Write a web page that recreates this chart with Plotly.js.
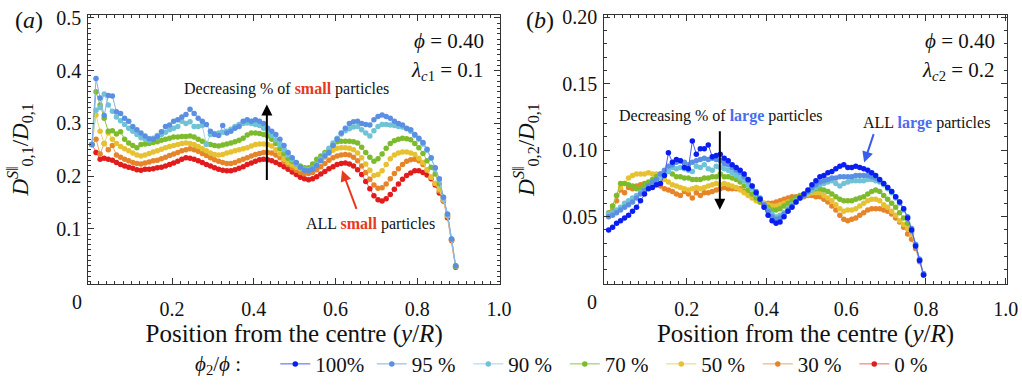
<!DOCTYPE html>
<html><head><meta charset="utf-8">
<script src="https://cdn.plot.ly/plotly-3.0.1.min.js"></script>
<style>html,body{margin:0;padding:0;background:#fff;} #chart{width:1022px;height:385px;}</style>
</head><body><div id="chart"></div>
<script>
// ---- data ----
const xLeft = [0.004,0.014,0.024,0.034,0.044,0.054,0.064,0.074,0.084,0.094,
0.104,0.114,0.124,0.134,0.144,0.154,0.164,0.174,0.184,0.194,
0.204,0.214,0.224,0.234,0.244,0.254,0.264,0.274,0.284,0.294,
0.304,0.314,0.324,0.334,0.344,0.354,0.364,0.374,0.384,0.394,
0.404,0.414,0.424,0.434,0.444,0.454,0.464,0.474,0.484,0.494,
0.504,0.514,0.524,0.534,0.544,0.554,0.564,0.574,0.584,0.594,
0.604,0.614,0.624,0.634,0.644,0.654,0.664,0.674,0.684,0.694,
0.704,0.714,0.724,0.734,0.744,0.754,0.764,0.774,0.784,0.794,
0.804,0.814,0.824,0.834,0.844,0.854,0.864,0.874,0.884,0.894];

const xRight = [0.004,0.014,0.024,0.034,0.044,0.054,0.064,0.074,0.084,0.094,
0.104,0.114,0.124,0.134,0.144,0.154,0.164,0.174,0.184,0.194,
0.204,0.214,0.224,0.234,0.244,0.254,0.264,0.274,0.284,0.294,
0.304,0.314,0.324,0.334,0.344,0.354,0.364,0.374,0.384,0.394,
0.404,0.414,0.424,0.434,0.444,0.454,0.464,0.474,0.484,0.494,
0.504,0.514,0.524,0.534,0.544,0.554,0.564,0.574,0.584,0.594,
0.604,0.614,0.624,0.634,0.644,0.654,0.664,0.674,0.684,0.694,
0.704,0.714,0.724,0.734,0.744,0.754,0.764,0.774,0.784,0.794];

// panel (a): D^S||_{0,1}/D_{0,1}
const left95 = [0.26,0.385,0.348,0.315,0.353,0.352,0.322,0.319,0.31,0.304,
0.294,0.288,0.282,0.276,0.271,0.27,0.275,0.284,0.294,0.297,
0.304,0.307,0.312,0.317,0.327,0.319,0.31,0.304,0.298,0.285,
0.279,0.277,0.296,0.282,0.285,0.291,0.294,0.304,0.307,0.304,
0.307,0.304,0.3,0.291,0.285,0.279,0.27,0.258,0.245,0.235,
0.226,0.217,0.211,0.21,0.213,0.22,0.229,0.238,0.245,0.258,
0.27,0.282,0.291,0.3,0.303,0.304,0.3,0.298,0.297,0.307,
0.313,0.316,0.313,0.31,0.304,0.3,0.297,0.291,0.288,0.279,
0.272,0.264,0.251,0.235,0.216,0.195,0.16,0.128,0.081,0.03];
const left90 = [0.26,0.325,0.33,0.356,0.335,0.323,0.312,0.305,0.298,0.291,
0.285,0.279,0.273,0.27,0.268,0.272,0.277,0.279,0.283,0.288,
0.291,0.294,0.304,0.3,0.303,0.294,0.294,0.296,0.26,0.279,
0.281,0.282,0.283,0.285,0.289,0.294,0.298,0.3,0.301,0.3,
0.298,0.296,0.291,0.285,0.277,0.269,0.26,0.25,0.24,0.231,
0.223,0.216,0.213,0.212,0.215,0.222,0.232,0.242,0.253,0.263,
0.272,0.28,0.286,0.29,0.293,0.294,0.288,0.282,0.276,0.286,
0.294,0.298,0.298,0.297,0.296,0.294,0.293,0.29,0.285,0.277,
0.27,0.261,0.249,0.234,0.215,0.193,0.158,0.127,0.081,0.03];
const left70 = [0.26,0.36,0.335,0.31,0.285,0.286,0.28,0.284,0.27,0.263,
0.258,0.254,0.26,0.261,0.262,0.264,0.265,0.268,0.27,0.272,
0.274,0.274,0.275,0.275,0.276,0.274,0.27,0.266,0.262,0.26,
0.258,0.257,0.259,0.261,0.263,0.265,0.268,0.272,0.278,0.282,
0.282,0.281,0.279,0.276,0.27,0.262,0.252,0.242,0.234,0.228,
0.223,0.219,0.216,0.216,0.223,0.232,0.238,0.245,0.251,0.259,
0.265,0.266,0.266,0.266,0.265,0.263,0.255,0.245,0.236,0.228,
0.233,0.242,0.253,0.262,0.267,0.27,0.272,0.271,0.269,0.262,
0.254,0.243,0.229,0.217,0.204,0.185,0.16,0.127,0.08,0.029];
const left50 = [0.26,0.316,0.285,0.262,0.282,0.27,0.262,0.256,0.252,0.248,
0.244,0.24,0.238,0.24,0.243,0.246,0.248,0.251,0.254,0.256,
0.258,0.26,0.262,0.263,0.262,0.26,0.256,0.252,0.248,0.244,
0.241,0.24,0.241,0.244,0.246,0.248,0.25,0.252,0.254,0.257,
0.26,0.261,0.261,0.26,0.257,0.25,0.242,0.232,0.226,0.221,
0.217,0.214,0.212,0.213,0.218,0.225,0.23,0.236,0.243,0.249,
0.253,0.254,0.254,0.253,0.25,0.244,0.235,0.223,0.211,0.201,
0.203,0.21,0.222,0.233,0.24,0.244,0.246,0.246,0.244,0.241,
0.234,0.226,0.212,0.198,0.186,0.175,0.155,0.125,0.08,0.029];
const left30 = [0.26,0.27,0.242,0.262,0.25,0.258,0.24,0.236,0.232,0.229,
0.226,0.224,0.223,0.225,0.227,0.229,0.23,0.233,0.236,0.239,
0.242,0.245,0.248,0.25,0.252,0.25,0.247,0.243,0.239,0.235,
0.231,0.228,0.226,0.224,0.224,0.226,0.229,0.232,0.235,0.238,
0.241,0.243,0.245,0.245,0.244,0.24,0.235,0.228,0.222,0.216,
0.211,0.207,0.205,0.205,0.207,0.212,0.218,0.224,0.23,0.235,
0.238,0.24,0.241,0.24,0.236,0.229,0.219,0.207,0.194,0.183,
0.177,0.178,0.185,0.195,0.205,0.214,0.222,0.228,0.231,0.232,
0.229,0.222,0.211,0.198,0.186,0.172,0.154,0.124,0.079,0.028];
const left0 = [0.26,0.245,0.232,0.234,0.232,0.23,0.226,0.222,0.219,0.217,
0.215,0.212,0.211,0.213,0.213,0.214,0.216,0.217,0.219,0.222,
0.225,0.228,0.232,0.235,0.234,0.232,0.229,0.226,0.222,0.219,
0.216,0.213,0.211,0.21,0.21,0.212,0.215,0.218,0.222,0.225,
0.228,0.231,0.232,0.231,0.229,0.226,0.222,0.218,0.213,0.208,
0.203,0.198,0.195,0.193,0.195,0.199,0.204,0.209,0.214,0.218,
0.222,0.224,0.225,0.223,0.219,0.212,0.203,0.19,0.176,0.163,
0.155,0.153,0.157,0.165,0.175,0.185,0.194,0.201,0.206,0.21,
0.21,0.207,0.202,0.195,0.183,0.168,0.153,0.121,0.078,0.027];

// panel (b): D^S||_{0,2}/D_{0,1}
const right100 = [0.040,0.042,0.045,0.047,0.049,0.051,0.054,0.057,0.062,0.067,
0.071,0.072,0.074,0.075,0.081,0.098,0.091,0.093,0.092,0.087,
0.086,0.107,0.097,0.101,0.101,0.104,0.095,0.096,0.097,0.094,
0.092,0.089,0.087,0.085,0.082,0.078,0.073,0.068,0.063,0.057,
0.051,0.047,0.045,0.046,0.050,0.054,0.057,0.061,0.064,0.067,
0.070,0.074,0.077,0.080,0.081,0.083,0.084,0.086,0.088,0.089,
0.087,0.087,0.088,0.087,0.086,0.085,0.083,0.081,0.078,0.075,
0.072,0.069,0.065,0.061,0.056,0.049,0.040,0.028,0.017,0.006];
const right95 = [0.050,0.051,0.053,0.055,0.057,0.059,0.061,0.064,0.067,0.070,
0.073,0.076,0.078,0.082,0.085,0.088,0.089,0.091,0.092,0.091,
0.089,0.091,0.092,0.093,0.094,0.093,0.094,0.093,0.092,0.090,
0.089,0.087,0.085,0.083,0.080,0.077,0.073,0.069,0.064,0.059,
0.054,0.050,0.048,0.049,0.052,0.055,0.058,0.061,0.064,0.066,
0.069,0.072,0.074,0.076,0.077,0.078,0.079,0.079,0.080,0.080,
0.080,0.080,0.081,0.081,0.081,0.081,0.080,0.079,0.077,0.075,
0.072,0.069,0.065,0.061,0.056,0.050,0.041,0.029,0.018,0.007];
const right90 = [0.052,0.053,0.055,0.057,0.060,0.062,0.064,0.066,0.068,0.070,
0.072,0.074,0.076,0.079,0.082,0.084,0.087,0.086,0.087,0.086,
0.085,0.084,0.088,0.087,0.089,0.086,0.085,0.088,0.087,0.086,
0.085,0.083,0.081,0.079,0.077,0.074,0.071,0.067,0.063,0.059,
0.055,0.052,0.050,0.051,0.053,0.056,0.059,0.062,0.064,0.066,
0.068,0.070,0.072,0.074,0.075,0.076,0.077,0.075,0.073,0.075,
0.076,0.077,0.077,0.077,0.077,0.078,0.078,0.077,0.076,0.074,
0.071,0.068,0.064,0.060,0.055,0.049,0.040,0.029,0.018,0.007];
const right70 = [0.053,0.058,0.066,0.075,0.075,0.074,0.073,0.071,0.071,0.074,
0.076,0.078,0.080,0.082,0.083,0.084,0.082,0.080,0.080,0.079,
0.079,0.078,0.078,0.078,0.079,0.079,0.080,0.080,0.082,0.080,
0.080,0.079,0.078,0.076,0.073,0.070,0.067,0.064,0.061,0.059,
0.057,0.055,0.055,0.056,0.058,0.060,0.062,0.064,0.066,0.067,
0.069,0.070,0.071,0.071,0.070,0.069,0.067,0.065,0.063,0.062,
0.062,0.062,0.063,0.064,0.065,0.067,0.069,0.070,0.069,0.066,
0.063,0.060,0.057,0.053,0.049,0.045,0.039,0.028,0.017,0.006];
const right50 = [0.052,0.058,0.066,0.072,0.075,0.079,0.081,0.082,0.082,0.082,
0.083,0.082,0.082,0.080,0.078,0.076,0.074,0.073,0.072,0.071,
0.070,0.071,0.072,0.071,0.072,0.073,0.074,0.075,0.074,0.075,
0.074,0.073,0.072,0.070,0.068,0.066,0.064,0.062,0.061,0.060,
0.059,0.058,0.058,0.059,0.060,0.061,0.062,0.063,0.065,0.066,
0.067,0.068,0.068,0.068,0.066,0.064,0.062,0.059,0.056,0.054,
0.055,0.055,0.056,0.058,0.060,0.062,0.063,0.063,0.062,0.059,
0.057,0.054,0.051,0.047,0.044,0.041,0.037,0.028,0.017,0.006];
const right30 = [0.051,0.055,0.062,0.070,0.068,0.072,0.071,0.073,0.074,0.075,
0.075,0.075,0.074,0.073,0.071,0.070,0.069,0.067,0.066,0.069,
0.067,0.064,0.068,0.066,0.068,0.068,0.069,0.070,0.071,0.072,
0.071,0.071,0.071,0.071,0.069,0.067,0.065,0.063,0.061,0.060,
0.060,0.060,0.061,0.062,0.063,0.064,0.065,0.065,0.065,0.065,
0.066,0.066,0.065,0.065,0.063,0.061,0.058,0.055,0.051,0.048,
0.047,0.048,0.049,0.051,0.053,0.055,0.056,0.056,0.056,0.055,
0.054,0.052,0.049,0.046,0.042,0.037,0.033,0.026,0.016,0.006];

const seriesKeys = ['p100','p95','p90','p70','p50','p30','p0'];
const seriesLabels = ['100%','95 %','90 %','70 %','50 %','30 %','0 %'];
const xTickVals = [0.2,0.4,0.6,0.8,1.0];
const xTickText = ['0.2','0.4','0.6','0.8','1.0'];
const yTickValsLeft = [0.1,0.2,0.3,0.4,0.5];
const yTickTextLeft = ['0.1','0.2','0.3','0.4','0.5'];
const yTickValsRight = [0.05,0.10,0.15,0.20];
const yTickTextRight = ['0.05','0.10','0.15','0.20'];

// ---- styles ----
const FONT = 'Liberation Serif';
const markerColor = {p100:'#0a1ef0', p95:'#5a8fe2', p90:'#70c2d6', p70:'#7dbb2c', p50:'#e6c233', p30:'#e6842a', p0:'#e11c1c'};
const lineColor   = {p100:'#4a5cf5', p95:'#86aeea', p90:'#9fd6e3', p70:'#8fc44a', p50:'#ecd36e', p30:'#eda462', p0:'#ec6a6a'};
const RED = '#e8391d', BLUE = '#4a6cf0';

function mk(x, y, key, xa, ya, showleg) {
  const i = seriesKeys.indexOf(key);
  return {type:'scatter', mode:'lines+markers', x:x, y:y, name:seriesLabels[i],
    legendgroup:key, showlegend:showleg, legendrank:i+1, xaxis:xa, yaxis:ya,
    line:{color:lineColor[key], width:1}, marker:{color:markerColor[key], size:5.5},
    hoverinfo:'x+y'};
}

const traces = [
  mk(xLeft, left0,  'p0',  'x','y', true),
  mk(xLeft, left30, 'p30', 'x','y', true),
  mk(xLeft, left50, 'p50', 'x','y', true),
  mk(xLeft, left70, 'p70', 'x','y', true),
  mk(xLeft, left90, 'p90', 'x','y', true),
  mk(xLeft, left95, 'p95', 'x','y', true),
  mk(xRight, right30, 'p30', 'x2','y2', false),
  mk(xRight, right50, 'p50', 'x2','y2', false),
  mk(xRight, right70, 'p70', 'x2','y2', false),
  mk(xRight, right90, 'p90', 'x2','y2', false),
  mk(xRight, right95, 'p95', 'x2','y2', false),
  mk(xRight, right100,'p100','x2','y2', true)
];

const axBase = {
  showline:true, linecolor:'#333', linewidth:1, mirror:'allticks',
  ticks:'inside', ticklen:6, tickwidth:1, tickcolor:'#333',
  showgrid:false, zeroline:false, automargin:false,
  tickfont:{family:FONT, size:20, color:'#111'},
  tickmode:'array'
};
const xMinor = {tickmode:'linear', tick0:0, dtick:0.02, ticks:'inside', ticklen:3, tickcolor:'#333', tickwidth:1};
const yMinor = {tickmode:'linear', tick0:0, dtick:0.01, ticks:'inside', ticklen:3, tickcolor:'#333', tickwidth:1};
const xTitle = {text:'Position from the centre (<i>y</i>/<i>R</i>)', font:{family:FONT, size:25, color:'#111'}, standoff:5};
const txt = (size, color) => ({family:FONT, size:size, color:color || '#111'});
const P = (px, py) => ({xref:'paper', yref:'paper', x:px/1022, y:1-py/385, xanchor:'center', yanchor:'middle', showarrow:false});
const NB = '\u00a0';

const layout = {
  width:1022, height:385, autosize:false,
  margin:{l:0, r:0, t:0, b:0},
  paper_bgcolor:'#fff', plot_bgcolor:'#fff',
  font:{family:FONT, color:'#111'},
  showlegend:true,
  xaxis: Object.assign({}, axBase, {domain:[0.0864,0.4892], range:[-0.0049,1.0024], anchor:'y',
    tickvals:xTickVals, ticktext:xTickText, minor:xMinor, title:xTitle, ticklabelstandoff:7}),
  yaxis: Object.assign({}, axBase, {domain:[0.2506,0.961], range:[-0.0046,0.506], anchor:'x',
    tickvals:yTickValsLeft, ticktext:yTickTextLeft, minor:yMinor, ticklabelstandoff:2,
    title:{text:'<i>D</i><sup><i>S</i>‖</sup><sub>0,1</sub>/<i>D</i><sub>0,1</sub>', font:txt(23), standoff:21}}),
  xaxis2: Object.assign({}, axBase, {domain:[0.5913,0.985], range:[-0.0068,1.0025], anchor:'y2',
    tickvals:xTickVals, ticktext:xTickText, minor:xMinor, title:xTitle, ticklabelstandoff:7}),
  yaxis2: Object.assign({}, axBase, {domain:[0.2506,0.961], range:[-0.0007,0.2019], anchor:'x2',
    tickvals:yTickValsRight, ticktext:yTickTextRight, minor:yMinor, ticklabelstandoff:2,
    title:{text:'<i>D</i><sup><i>S</i>‖</sup><sub>0,2</sub>/<i>D</i><sub>0,1</sub>', font:txt(23), standoff:21}}),
  legend:{orientation:'h', x:193/1022, xanchor:'left', y:1-370/385, yanchor:'middle',
    font:txt(21), traceorder:'normal',
    title:{text:'<i>ϕ</i><sub>2</sub>/<i>ϕ</i> :' + NB+NB+NB+NB+NB, side:'left', font:txt(21)},
    itemwidth:30, entrywidth:51.5, entrywidthmode:'pixels', bgcolor:'rgba(0,0,0,0)'},
  annotations:[
    Object.assign(P(29,20), {text:'(<i>a</i>)', font:txt(24)}),
    Object.assign(P(540,20), {text:'(<i>b</i>)', font:txt(24)}),
    Object.assign(P(77,307), {text:'0', font:txt(20)}),
    Object.assign(P(592,307), {text:'0', font:txt(20)}),
    Object.assign(P(486,42), {xanchor:'right', text:'<i>ϕ</i> = 0.40', font:txt(21)}),
    Object.assign(P(486,72), {xanchor:'right', text:'<i>λ</i><sub><i>c</i>1</sub> = 0.1', font:txt(21)}),
    Object.assign(P(997,42), {xanchor:'right', text:'<i>ϕ</i> = 0.40', font:txt(21)}),
    Object.assign(P(997,72), {xanchor:'right', text:'<i>λ</i><sub><i>c</i>2</sub> = 0.2', font:txt(21)}),
    Object.assign(P(286,90), {text:'Decreasing % of <b><span style="color:'+RED+'">small</span></b> particles', font:txt(16)}),
    Object.assign(P(370,228), {text:'ALL <b><span style="color:'+RED+'">small</span></b> particles', font:txt(16)}),
    Object.assign(P(720,118), {text:'Decreasing % of <b><span style="color:'+BLUE+'">large</span></b> particles', font:txt(16)}),
    Object.assign(P(926,125), {text:'ALL <b><span style="color:'+BLUE+'">large</span></b> particles', font:txt(16)}),
    {xref:'x', yref:'y', x:0.432, y:0.336, ax:0, ay:77, text:'', showarrow:true, arrowhead:2, arrowsize:1.1, arrowwidth:2, arrowcolor:'#000'},
    {xref:'x', yref:'y', x:0.616, y:0.211, ax:15, ay:40, text:'', showarrow:true, arrowhead:2, arrowsize:1.1, arrowwidth:2, arrowcolor:RED},
    {xref:'x2', yref:'y2', x:0.283, y:0.0552, ax:0, ay:-80, text:'', showarrow:true, arrowhead:2, arrowsize:1.1, arrowwidth:2, arrowcolor:'#000'},
    {xref:'x2', yref:'y2', x:0.645, y:0.0907, ax:10, ay:-30, text:'', showarrow:true, arrowhead:2, arrowsize:1.1, arrowwidth:2, arrowcolor:'#3a5cf0'}
  ]
};

Plotly.newPlot('chart', traces, layout, {displayModeBar:false, staticPlot:true});
</script></body></html>
